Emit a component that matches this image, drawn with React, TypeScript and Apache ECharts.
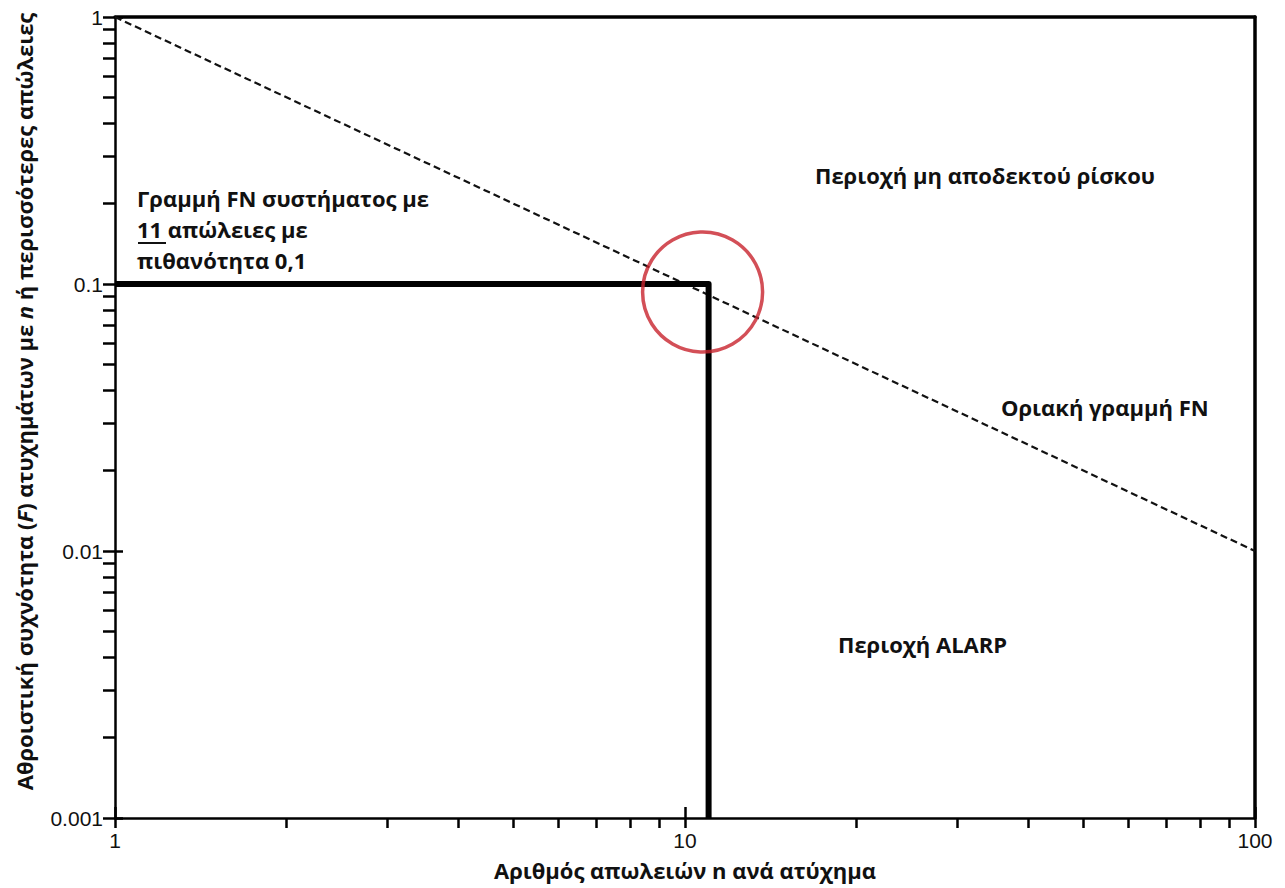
import React, { useEffect, useRef } from "react";
import * as echarts from "echarts";

// Axis ranges (log scales)
const xRange = [1, 100];
const yRange = [0.001, 1];

// Minor tick positions inside each decade
const xMinorTicks = [2, 3, 4, 5, 6, 7, 8, 9, 20, 30, 40, 50, 60, 70, 80, 90];
const yMinorTicks = [
  0.002, 0.003, 0.004, 0.005, 0.006, 0.007, 0.008, 0.009,
  0.02, 0.03, 0.04, 0.05, 0.06, 0.07, 0.08, 0.09,
  0.2, 0.3, 0.4, 0.5, 0.6, 0.7, 0.8, 0.9,
];

// Limit FN line: F = 1/n, from n = 1 to n = 100
const limitLine = [
  [1, 1],
  [100, 0.01],
];

// System FN line: 11 losses with probability 0.1
const systemN = 11;
const systemF = 0.1;
const systemLine = [
  [1, systemF],
  [systemN, systemF],
  [systemN, yRange[0]],
];

// Point that is circled
const highlightPoint = [[systemN, systemF]];

const xTitle = "Αριθμός απωλειών n ανά ατύχημα";
const yTitleRich =
  "{b|Αθροιστική συχνότητα (}{i|F}{b|) ατυχημάτων με }{i|n}{b| ή περισσότερες απώλειες}";

const notes = {
  systemLine1: "Γραμμή FN συστήματος με",
  systemLine2: "11 απώλειες με",
  systemLine3: "πιθανότητα 0,1",
  unacceptable: "Περιοχή μη αποδεκτού ρίσκου",
  limit: "Οριακή γραμμή FN",
  alarp: "Περιοχή ALARP",
};

const FONT = "'Open Sans', 'Noto Sans', sans-serif";
const TICK_FONT = "'Liberation Sans', Arial, sans-serif";

const fmt = (v: number) => {
  if (v >= 1) return String(Math.round(v));
  return String(Number(v.toPrecision(1)));
};

export default function App() {
  const ref = useRef<HTMLDivElement>(null);

  useEffect(() => {
    if (!ref.current) return;
    const chart = echarts.init(ref.current, undefined, { renderer: "svg" });

    const lineBlack = { color: "#000", width: 2.5 };

    const xLog = {
      type: "log" as const,
      logBase: 10,
      min: xRange[0],
      max: xRange[1],
      splitLine: { show: false },
      minorTick: { show: false },
    };
    const yLog = {
      type: "log" as const,
      logBase: 10,
      min: yRange[0],
      max: yRange[1],
      splitLine: { show: false },
      minorTick: { show: false },
    };

    const note = (text: string, x: number, y: number, size = 22) => ({
      type: "text",
      x,
      y,
      style: {
        text,
        font: `bold ${size}px ${FONT}`,
        fill: "#111",
        verticalAlign: "middle",
        align: "left",
      },
    });

    chart.setOption({
      animation: false,
      backgroundColor: "#fff",
      grid: { left: 115, right: 30, top: 17, bottom: 70, containLabel: false },
      xAxis: [
        {
          ...xLog,
          position: "bottom",
          name: xTitle,
          nameLocation: "middle",
          nameGap: 41,
          nameTextStyle: {
            fontFamily: FONT,
            fontWeight: "bold",
            fontSize: 22,
            color: "#111",
          },
          axisLine: { show: true, onZero: false, lineStyle: lineBlack },
          axisTick: { show: true, inside: false, length: 10, lineStyle: lineBlack },
          axisLabel: {
            show: true,
            margin: 12,
            fontFamily: TICK_FONT,
            fontSize: 21,
            color: "#111",
            formatter: fmt,
          },
        },
        {
          ...xLog,
          position: "top",
          axisLine: { show: true, onZero: false, lineStyle: { color: "#000", width: 3.5 } },
          axisTick: { show: false },
          axisLabel: { show: false },
        },
        {
          // inner half of the major ticks
          ...xLog,
          position: "bottom",
          axisLine: { show: false, onZero: false },
          axisTick: { show: true, inside: true, length: 11, lineStyle: lineBlack },
          axisLabel: { show: false },
        },
        {
          // minor ticks
          ...xLog,
          position: "bottom",
          axisLine: { show: false, onZero: false },
          axisTick: {
            show: true,
            inside: false,
            length: 10,
            customValues: xMinorTicks,
            lineStyle: lineBlack,
          },
          axisLabel: { show: false },
        },
      ],
      yAxis: [
        {
          ...yLog,
          position: "left",
          name: yTitleRich,
          nameLocation: "middle",
          nameGap: 80,
          nameRotate: 90,
          nameTextStyle: {
            padding: [0, 0, 0, 32],
            rich: {
              b: { fontFamily: FONT, fontWeight: "bold", fontSize: 22, color: "#111" },
              i: {
                fontFamily: FONT,
                fontWeight: "bold",
                fontStyle: "italic",
                fontSize: 22,
                color: "#111",
              },
            },
          },
          axisLine: { show: true, onZero: false, lineStyle: lineBlack },
          axisTick: { show: true, inside: false, length: 12, lineStyle: lineBlack },
          axisLabel: {
            show: true,
            margin: 12,
            fontFamily: TICK_FONT,
            fontSize: 21,
            color: "#111",
            formatter: fmt,
          },
        },
        {
          ...yLog,
          position: "right",
          axisLine: { show: true, onZero: false, lineStyle: { color: "#000", width: 3.5 } },
          axisTick: { show: false },
          axisLabel: { show: false },
        },
        {
          ...yLog,
          position: "left",
          axisLine: { show: false, onZero: false },
          axisTick: { show: true, inside: true, length: 8, lineStyle: lineBlack },
          axisLabel: { show: false },
        },
        {
          ...yLog,
          position: "left",
          axisLine: { show: false, onZero: false },
          axisTick: {
            show: true,
            inside: false,
            length: 12,
            customValues: yMinorTicks,
            lineStyle: lineBlack,
          },
          axisLabel: { show: false },
        },
      ],
      series: [
        {
          type: "line",
          name: "limit",
          xAxisIndex: 0,
          yAxisIndex: 0,
          data: limitLine,
          symbol: "none",
          silent: true,
          lineStyle: { color: "#111", width: 2.2, type: [7, 4] },
          z: 2,
        },
        {
          type: "line",
          name: "system",
          xAxisIndex: 0,
          yAxisIndex: 0,
          data: systemLine,
          symbol: "none",
          silent: true,
          lineStyle: { color: "#000", width: 6, join: "round", cap: "butt" },
          z: 3,
        },
        {
          type: "scatter",
          name: "highlight",
          xAxisIndex: 0,
          yAxisIndex: 0,
          data: highlightPoint,
          symbol: "circle",
          symbolSize: 120,
          symbolOffset: [-6, 8],
          silent: true,
          itemStyle: {
            color: "rgba(0,0,0,0)",
            borderColor: "#c8232d",
            borderWidth: 3.5,
          },
          z: 4,
        },
      ],
      graphic: [
        note(notes.systemLine1, 137, 198),
        note(notes.systemLine2, 137, 229),
        {
          type: "line",
          shape: { x1: 138, y1: 243, x2: 166, y2: 243 },
          style: { stroke: "#111", lineWidth: 2 },
        },
        note(notes.systemLine3, 137, 260),
        note(notes.unacceptable, 815, 175),
        note(notes.limit, 1001, 407),
        note(notes.alarp, 838, 644),
      ],
    });

    return () => chart.dispose();
  }, []);

  return (
    <div
      ref={ref}
      style={{ width: 1285, height: 888, position: "absolute", left: 0, top: 0 }}
    />
  );
}
